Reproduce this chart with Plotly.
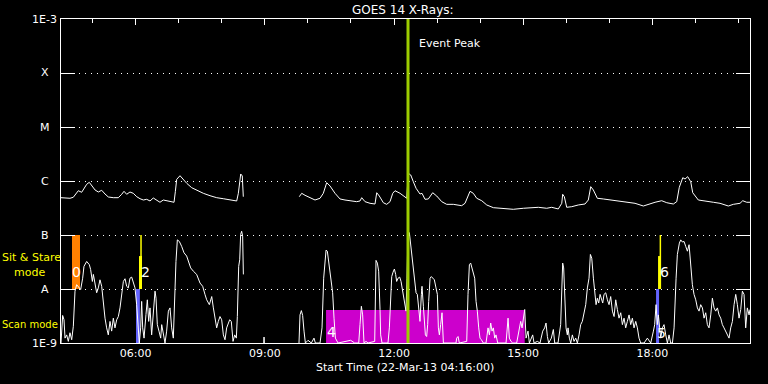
import plotly.graph_objects as go
import pandas as pd

# ---------------- data ----------------
START = pd.Timestamp("2013-03-22 04:16:00")
END = pd.Timestamp("2013-03-22 20:16:00")

# long channel (1-8 A): minutes after start, log10 flux (W/m^2); None = data gap
long_min = [0, 5.6, 12.5, 17.1, 19.5, 24.1, 28.8, 33.4, 35.8, 39.4, 42.8, 47.4, 52.0, 56.7, 61.3, 65.9,
            72.9, 79.8, 84.6, 87.8, 91.5, 96.1, 100.7, 105.5, 110.1, 114.7, 119.4, 124.0, 128.6, 133.3,
            137.9, 142.5, 147.3, 151.9, 157.5, 159.3, 161.2, 165.8, 170.4, 175.2, 182.1, 189.1, 198.3,
            207.6, 217.0, 226.1, 235.5, 244.8, 247.1, 250.4, 252.6, 254.0, None,
            332.0, 335.4, 340.0, 347.0, 353.9, 360.9, 365.5, 370.2, 374.8, 381.8, 388.8, 395.7, 402.7,
            412.0, 416.6, 419.0, 423.6, 430.6, 437.5, 439.9, 443.5, 449.1, 453.8, 458.4, 462.2, 465.4,
            472.4, 479.3, 481.7, 483.9, 487.3, 490.9, 494.7, 500.2, 503.0, 507.2, 511.8, 517.9, 523.5,
            530.5, 537.4, 546.6, 553.6, 558.3, 562.9, 569.9, 574.5, 579.2, 586.2, 593.2, 602.4, 616.3,
            630.2, 644.2, 653.5, 665.1, 676.8, 683.7, 692.9, 697.7, 699.0, 701.3, 704.6, 711.6, 720.8,
            730.1, 734.7, 738.1, 741.7, 747.3, 755.6, 765.0, 776.5, 788.2, 799.8, 811.4, 818.4, 827.7,
            837.0, 844.0, 853.2, 857.9, 861.5, 866.3, 869.5, 873.2, 877.4, 880.2, 888.0, 899.7, 908.9,
            918.2, 929.8, 936.8, 946.1, 949.9, 955.4, 960.0]
long_log = [-6.309, -6.31, -6.32, -6.302, -6.259, -6.18, -6.209, -6.124, -6.061, -6.024, -6.092, -6.166,
            -6.204, -6.172, -6.241, -6.296, -6.309, -6.309, -6.246, -6.191, -6.246, -6.204, -6.228,
            -6.291, -6.328, -6.352, -6.339, -6.37, -6.315, -6.352, -6.394, -6.352, -6.365, -6.383,
            -6.394, -6.198, -5.969, -5.902, -5.981, -6.043, -6.124, -6.172, -6.228, -6.272, -6.309,
            -6.328, -6.352, -6.37, -6.228, -5.87, -5.907, -6.291, None,
            -6.291, -6.228, -6.265, -6.302, -6.352, -6.32, -6.228, -6.031, -6.092, -6.228, -6.333,
            -6.352, -6.37, -6.383, -6.37, -6.309, -6.383, -6.413, -6.426, -6.217, -6.278, -6.402,
            -6.432, -6.383, -6.228, -6.18, -6.228, -6.291, -6.32, -5.857, -5.889, -6.013, -6.135,
            -6.241, -6.228, -6.339, -6.333, -6.217, -6.278, -6.383, -6.432, -6.432, -6.444, -6.457,
            -6.413, -6.191, -6.228, -6.32, -6.365, -6.444, -6.494, -6.505, -6.524, -6.505, -6.494,
            -6.487, -6.505, -6.487, -6.518, -6.413, -6.246, -6.291, -6.487, -6.476, -6.444, -6.426,
            -6.352, -6.105, -6.166, -6.32, -6.333, -6.352, -6.37, -6.394, -6.413, -6.463, -6.432,
            -6.394, -6.365, -6.402, -6.426, -6.383, -6.117, -5.939, -5.963, -5.92, -6.013, -6.217,
            -6.352, -6.37, -6.394, -6.413, -6.463, -6.432, -6.413, -6.365, -6.394, -6.394]

# short channel (0.5-4 A)
short_min = [0.0, 2.3, 4.2, 5.6, 7.9, 10.2, 12.5, 14.9, 17.2, 19.5, 21.8, 24.1, 27.4, 30.2, 32.0, 35.8,
             39.5, 41.3, 43.7, 45.1, 47.4, 49.7, 52.0, 54.3, 56.7, 59.0, 61.3, 63.6, 65.9, 68.3, 70.6,
             72.9, 75.2, 77.6, 79.9, 82.2, 84.5, 86.9, 89.2, 91.5, 93.8, 96.1, 98.5, 100.8, 103.1, 105.4,
             107.8, 109.1, 111.0, 112.4, 113.8, 115.7, 118.4, 120.3, 122.2, 124.0, 126.3, 128.7, 131.0,
             132.4, 134.2, 136.5, 138.9, 140.3, 142.6, 144.9, 147.2, 149.6, 151.9, 154.2, 156.5, 158.8,
             160.2, 162.1, 164.9, 168.1, 171.4, 175.1, 177.4, 180.7, 184.4, 189.0, 193.7, 197.4, 200.6,
             203.0, 206.7, 210.0, 212.3, 214.6, 216.9, 219.2, 221.5, 223.9, 226.2, 228.5, 230.8,
             235.0, 237.3, 239.7, 242.0, 244.3, 245.7, 247.6, 249.0, 250.3, 251.7, 253.1, 254.1, None,
             282.5, 282.9, 283.3, None,
             331.6, 333.0, 334.9, 336.7, 338.6, 340.5, 344.2, 348.8, 352.5, 354.4, 360.9, 363.7, 366.0,
             367.4, 369.3, 371.1, 373.0, 374.8, 376.7, 378.5, 380.4, 382.3, 386.0, 403.6, 409.2, 414.8,
             416.6, 418.5, 420.3, 422.2, 425.0, 427.8, 437.1, 438.9, 440.8, 442.6, 444.5, 445.4, 447.3,
             455.6, 457.5, 459.4, 460.8, 462.6, 464.5, 466.3, 467.7, 469.6, 471.9,
             473.8, 476.1, 478.4, 479.8, 480.7, 482.1, 483.5, 485.4, 487.2, 489.1, 491.0, 492.8, 494.7,
             496.5, 498.4, 500.2, 502.1, 503.0, 504.9, 506.7, 507.7, 509.5, 510.9, 512.3, 514.2, 516.0,
             517.9, 520.2, 522.5, 524.4, 525.8, 527.2, 529.0, 530.9, 532.8, 550.4, 551.3, 553.2, 555.0,
             565.3, 567.1, 569.0, 570.8, 572.7, 574.6, 576.4, 578.3, 580.1, 582.0, 583.8, 585.7, 588.5,
             592.2, 595.0, 596.9, 598.7, 600.6, 602.4, 604.3, 606.1, 608.5, 620.1, 622.9, 624.7, 627.0,
             629.4, 634.9, 638.7, 640.5, 642.4, 644.2, 646.1, 648.0, 650.7, 652.6, 657.2, 659.1, 663.7,
             667.4, 671.2, 673.9, 675.8, 677.7, 679.5, 683.2, 686.0, 687.9, 692.5, 696.2, 698.1, 699.0,
             700.4, 701.8, 703.7, 705.5,
             706.5, 708.3, 710.2, 712.5, 714.8, 717.2, 719.5, 721.8, 724.1, 726.4, 728.8, 731.1, 733.4,
             735.7, 737.6, 739.5, 741.8, 743.6, 745.5, 747.3, 749.2, 751.1, 752.9, 754.8, 756.6, 759.0,
             761.3, 763.6, 765.9, 768.3, 770.6, 772.9, 775.2, 777.5, 779.9, 782.2, 784.5, 786.8, 789.1,
             791.5, 793.8, 796.1, 798.4, 800.8, 803.1, 805.4, 807.7, 812.4, 817.0, 821.7, 825.4, 827.2,
             829.1, 830.9, 832.3, 833.7, 835.6, 837.9, 840.2, 842.6, 844.9, 847.2, 849.5, 851.9, 854.2,
             857.0, 858.8, 861.6, 863.5, 865.8, 868.1, 870.4, 872.8, 875.1, 877.4, 879.7, 882.0, 884.4,
             886.7, 889.0, 891.3, 893.7, 896.0, 898.3, 900.6, 902.9, 905.3, 907.6, 909.9, 912.2, 914.6,
             916.9, 919.2, 921.5, 923.8, 926.2, 928.5, 930.8, 933.1, 935.5, 937.8, 940.1, 942.4, 944.7,
             947.1, 949.4, 951.7, 954.0, 956.3, 958.7, 960.0]
short_log = [-9.0, -8.49, -8.57, -8.91, -8.85, -8.97, -8.81, -8.94, -8.69, -8.04, -7.92, -7.95, -8.01,
             -7.8, -7.58, -7.49, -7.55, -7.64, -7.86, -7.73, -7.95, -8.07, -7.98, -7.83, -7.95, -8.29,
             -8.54, -8.72, -8.85, -8.6, -8.78, -8.54, -8.72, -8.57, -8.51, -8.35, -8.1, -7.86, -7.81,
             -7.95, -7.98, -7.8, -7.78, -7.87, -7.98, -8.29, -8.85, -9.0, -8.72, -8.23, -8.72, -8.91,
             -8.47, -8.2, -8.6, -8.35, -8.85, -8.44, -8.04, -8.17, -8.66, -8.78, -8.91, -8.66, -8.85,
             -9.0, -8.78, -8.41, -8.35, -8.72, -8.91, -7.98, -7.49, -7.09, -7.12, -7.21, -7.33, -7.39,
             -7.49, -7.61, -7.67, -7.73, -7.89, -7.95, -8.1, -8.2, -8.29, -8.14, -8.35, -8.54, -8.72,
             -8.6, -8.51, -8.57, -8.85, -8.94, -8.72,
             -8.57, -8.6, -8.97, -8.85, -8.91, -8.51, -7.58, -7.46, -6.99, -6.93, -7.02, -7.73, None,
             -9.0, -8.89, -9.0, None,
             -9.0, -8.48, -8.4, -8.49, -8.78, -9.0, -8.95, -9.0, -8.91, -9.0, -9.0, -8.72, -7.8,
             -7.55, -7.28, -7.3, -7.52, -7.64, -7.92, -8.07, -8.54, -8.91, -9.0, -8.95, -9.0, -9.0,
             -8.66, -8.32, -8.48, -9.0, -8.97, -9.0, -8.97, -7.47, -7.52, -7.67, -8.38, -8.85, -9.0,
             -9.0, -8.72, -8.1, -7.77, -7.69, -7.63, -7.73, -7.86, -7.8, -7.78,
             -7.86, -8.07, -8.29, -8.38, -8.41, -7.8, -6.93, -6.96, -7.18, -7.39, -7.58, -7.8, -8.07,
             -8.1, -8.35, -8.6, -8.1, -7.95, -8.32, -8.6, -8.85, -8.88, -8.66, -8.23, -7.8, -7.77,
             -7.8, -7.83, -7.98, -8.1, -8.72, -8.85, -8.66, -8.44, -9.0, -9.0, -8.91, -8.88, -9.0,
             -8.97, -8.1, -7.55, -7.52, -7.61, -7.67, -7.8, -8.23, -8.41, -8.72, -8.91, -8.94, -9.0,
             -9.0, -8.72, -8.85, -8.63, -8.78, -8.72, -8.91, -8.85, -9.0, -9.0, -8.54, -8.91, -8.97,
             -9.0, -9.0, -8.72, -8.6, -8.72, -8.54, -8.38, -8.91, -8.78, -9.0, -8.85, -9.0, -8.97,
             -9.0, -8.78, -8.72, -8.63, -8.88, -9.0, -8.91, -8.75, -9.0, -9.0, -8.66, -7.98, -7.52,
             -7.61, -8.1, -8.72, -8.85,
             -8.72, -8.91, -9.0, -8.85, -8.97, -8.91, -9.0, -8.85, -8.66, -8.6, -8.41, -8.29, -7.98,
             -7.8, -7.36, -7.43, -7.8, -8.1, -8.29, -8.17, -8.26, -8.1, -8.2, -8.26, -8.1, -8.07,
             -8.2, -8.29, -8.14, -8.41, -8.51, -8.2, -8.38, -8.54, -8.44, -8.66, -8.54, -8.72, -8.6,
             -8.48, -8.66, -8.54, -8.72, -8.6, -8.72, -8.91, -9.0, -9.0, -8.91, -9.0, -8.78, -8.66,
             -8.29, -8.66, -8.48, -8.72, -8.91, -8.72, -8.66, -8.85, -9.0, -8.85, -9.0, -9.0, -8.72,
             -7.8, -7.36, -7.15, -7.09, -7.13, -7.12, -7.21, -7.3, -7.18, -7.55, -7.92, -8.1, -8.2,
             -8.35, -8.41, -8.29, -8.35, -8.54, -8.44, -8.66, -8.72, -8.48, -8.17, -8.35, -8.41, -8.35,
             -8.48, -8.54, -8.66, -8.72, -8.78, -8.85, -8.91, -8.72, -8.6, -8.29, -8.1, -8.29, -8.54,
             -8.38, -8.04, -8.1, -8.72, -8.35, -8.48, -8.38]

# observing-mode blocks: start/end (minutes after start), log10 flux low/high, colour
mode_start = [15.3, 104.5, 108.7, 369.3, 829.1, 831.9]
mode_end = [26.5, 109.9, 112.9, 646.1, 833.3, 836.0]
mode_lo = [-8.0, -9.0, -8.0, -9.0, -9.0, -8.0]
mode_hi = [-7.0, -8.0, -7.39, -8.39, -8.0, -7.39]
mode_color = ["#ff8000", "#6464ff", "#ffff00", "#cc00cc", "#6464ff", "#ffff00"]
# thin markers from A to B level
mark_min = [111.5, 835.1]
# numbered labels
lab_text = ["0", "2", "4", "5", "6"]
lab_min = [21.6, 118.4, 376.2, 836.0, 840.9]
lab_log = [-7.68, -7.68, -8.80, -8.81, -7.68]

peak_min = 483.5
ytick_log = [-3, -4, -5, -6, -7, -8, -9]
ytick_text = ["1E-3", "X", "M", "C", "B", "A", "1E-9"]
xtick_labels = ["06:00", "09:00", "12:00", "15:00", "18:00"]


def to_time(mins):
    return [None if m is None else START + pd.Timedelta(minutes=m) for m in mins]


def to_flux(logs):
    return [None if v is None else 10 ** v for v in logs]


FONT = "DejaVu Sans"
fig = go.Figure()

# mode blocks
for s, e, lo, hi, c in zip(mode_start, mode_end, mode_lo, mode_hi, mode_color):
    fig.add_trace(go.Scatter(x=to_time([s, e, e, s, s]), y=to_flux([lo, lo, hi, hi, lo]),
                             mode="lines", fill="toself", fillcolor=c, line=dict(width=0, color=c),
                             hoverinfo="skip"))
for m in mark_min:
    fig.add_trace(go.Scatter(x=to_time([m, m]), y=to_flux([-8.0, -7.0]), mode="lines",
                             line=dict(color="#ffff00", width=1.5), hoverinfo="skip"))

# curves
fig.add_trace(go.Scatter(x=to_time(long_min), y=to_flux(long_log), mode="lines",
                         line=dict(color="white", width=1), connectgaps=False))
fig.add_trace(go.Scatter(x=to_time(short_min), y=to_flux(short_log), mode="lines",
                         line=dict(color="white", width=1), connectgaps=False))

# event peak line
fig.add_trace(go.Scatter(x=to_time([peak_min, peak_min]), y=[1e-9, 1e-3], mode="lines",
                         line=dict(color="#9ccc00", width=3), hoverinfo="skip"))

# invisible trace for top axis
fig.add_trace(go.Scatter(x=[START, END], y=[1e-9, 1e-9], xaxis="x2", mode="lines",
                         line=dict(width=0), hoverinfo="skip", opacity=0))

xticks = [pd.Timestamp("2013-03-22 " + t) for t in xtick_labels]

fig.update_layout(
    width=768, height=384, paper_bgcolor="black", plot_bgcolor="black",
    margin=dict(l=61, r=18, t=19, b=41), showlegend=False,
    font=dict(family=FONT, size=11, color="white"),
    xaxis=dict(type="date", range=[START, END], showgrid=False, zeroline=False,
               showline=True, linecolor="white", linewidth=1, mirror=True,
               ticks="", tickvals=xticks, ticktext=xtick_labels,
               tickfont=dict(family=FONT, size=11, color="white")),
    xaxis2=dict(type="date", range=[START, END], overlaying="x", side="top", showgrid=False,
                zeroline=False, showline=False, showticklabels=False,
                ticks="inside", ticklen=6, tickcolor="white", tickwidth=1,
                tick0="2013-03-22 00:00", dtick=3 * 3600000,
                minor=dict(ticks="inside", ticklen=4, tickcolor="white", tickwidth=1,
                           dtick=3600000, tick0="2013-03-22 00:00", showgrid=False)),
    yaxis=dict(type="log", range=[-9, -3], showline=True, linecolor="white", linewidth=1,
               mirror="ticks", ticks="inside", ticklen=14, tickcolor="white", tickwidth=1,
               tickvals=[10 ** v for v in ytick_log[1:-1]], showticklabels=False,
               showgrid=True, gridcolor="white", gridwidth=1, griddash="1px,5px",
               zeroline=False),
)

W, H = 689.0, 324.0
def px(xp):
    return (xp - 61) / W
def py(yp):
    return (343 - yp) / H

ann = []
for v, t in zip(ytick_log, ytick_text):
    ann.append(dict(x=px(44.5), y=(v + 9) / 6, xref="paper", yref="paper", text=t,
                    showarrow=False, xanchor="center", yanchor="middle",
                    font=dict(family=FONT, size=11, color="white")))
ann.append(dict(x=px(402.5), y=py(10), xref="paper", yref="paper", text="GOES 14 X-Rays:",
                showarrow=False, xanchor="center", yanchor="middle",
                font=dict(family=FONT, size=12, color="white")))
ann.append(dict(x=px(417), y=py(43), xref="paper", yref="paper", text="Event Peak",
                showarrow=False, xanchor="left", yanchor="middle",
                font=dict(family=FONT, size=11, color="white")))
ann.append(dict(x=px(405), y=py(368), xref="paper", yref="paper",
                text="Start Time (22-Mar-13 04:16:00)", showarrow=False,
                xanchor="center", yanchor="middle", font=dict(family=FONT, size=11, color="white")))
for txt, xl, yl, fs in [("Sit & Stare", 1, 257, 11), ("mode", 13, 272, 11), ("Scan mode", 1, 324, 10)]:
    ann.append(dict(x=px(xl), y=py(yl), xref="paper", yref="paper", text=txt, showarrow=False,
                    xanchor="left", yanchor="middle", borderpad=0,
                    font=dict(family=FONT, size=fs, color="#ffff00")))
for t, m, lg in zip(lab_text, lab_min, lab_log):
    ann.append(dict(x=START + pd.Timedelta(minutes=m), y=lg, xref="x", yref="y", text=t,
                    showarrow=False, xanchor="center", yanchor="middle",
                    font=dict(family=FONT, size=14, color="white")))
fig.update_layout(annotations=ann)

fig.write_html("out.html")
